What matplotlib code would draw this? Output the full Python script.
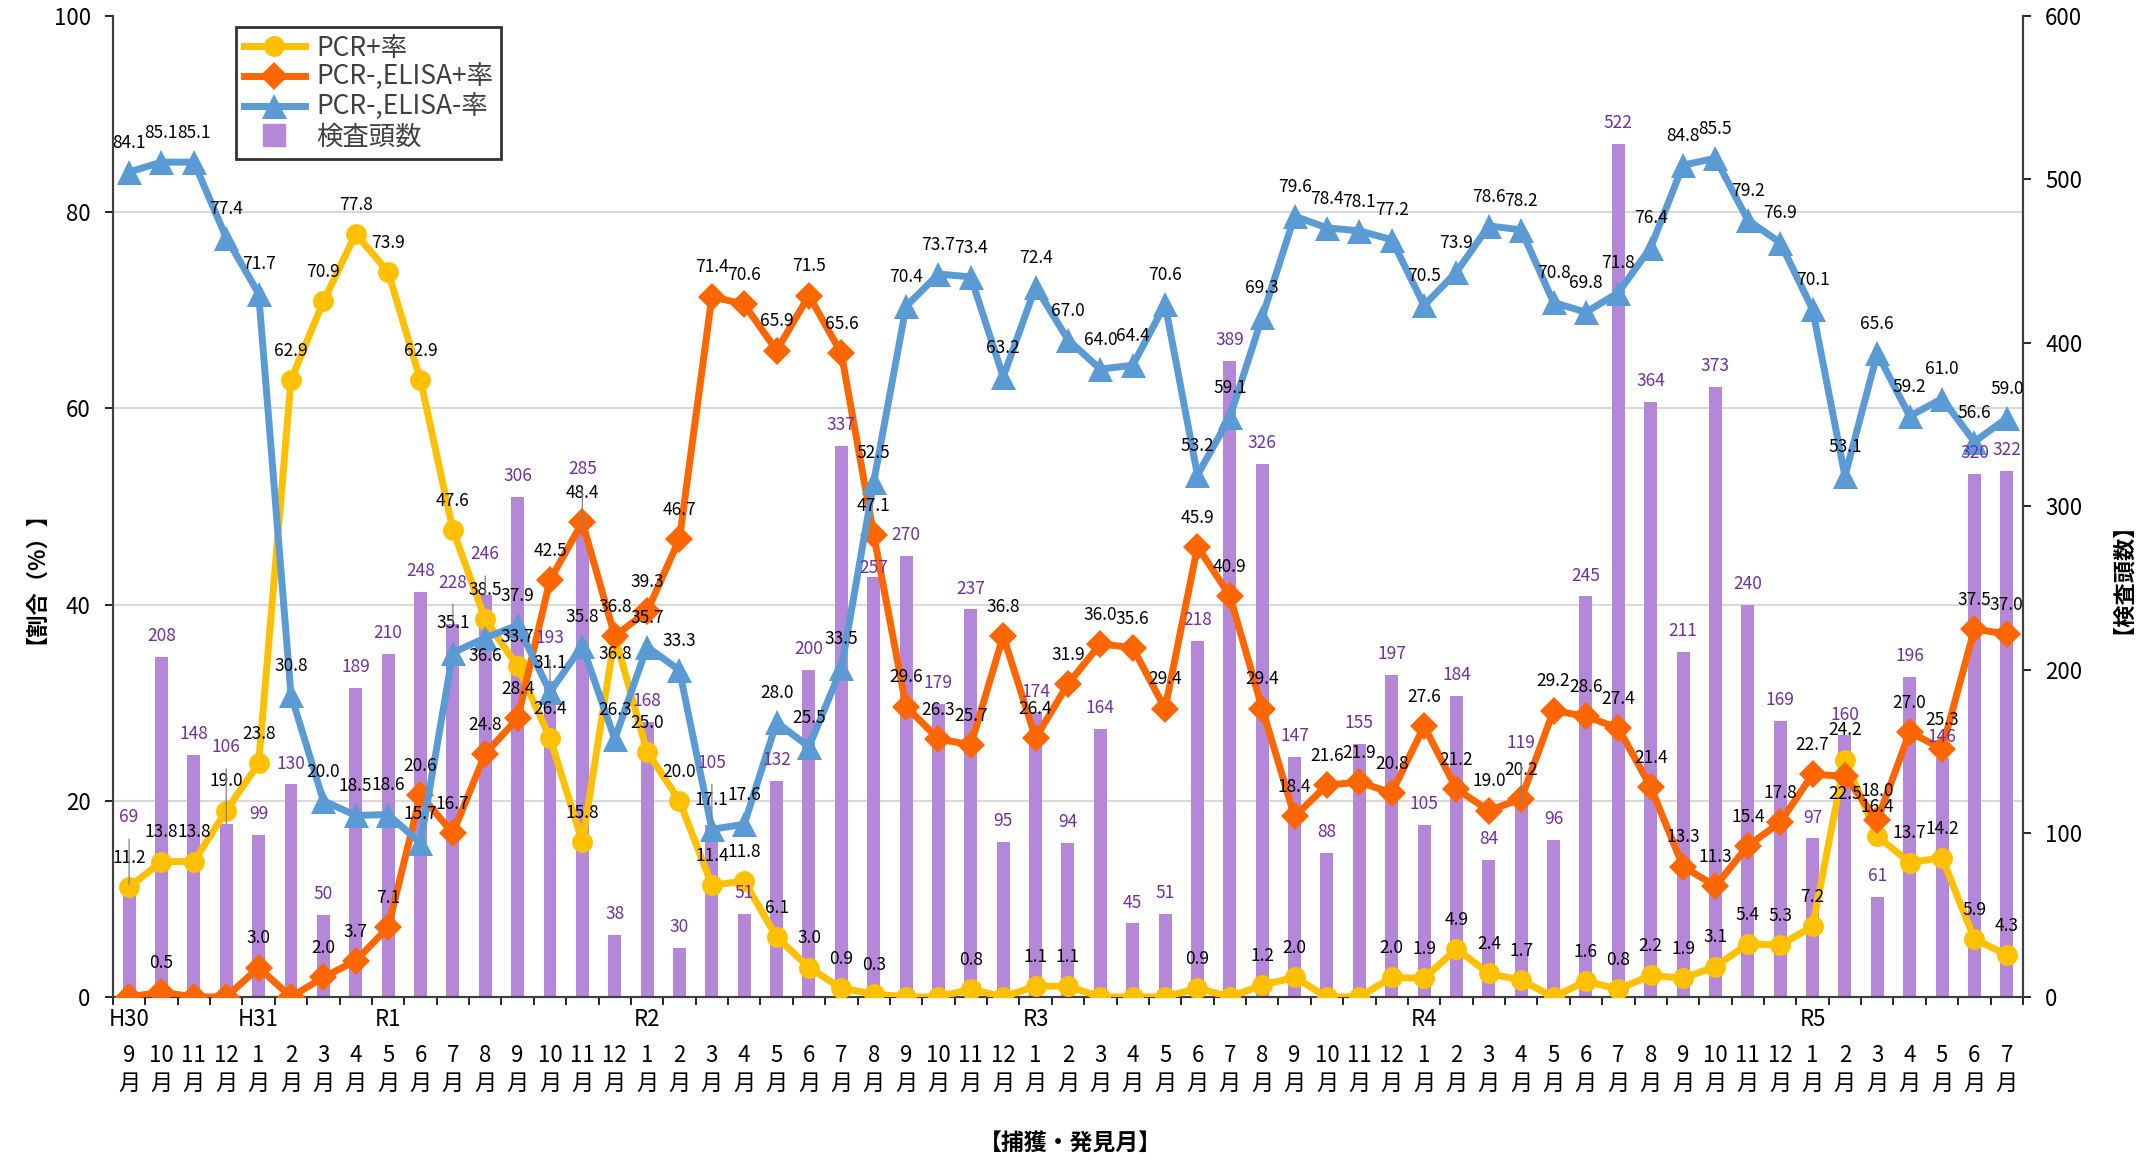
import numpy as np
import matplotlib
matplotlib.use("Agg")
import matplotlib.pyplot as plt
from matplotlib.lines import Line2D

plt.rcParams['font.family'] = ['Noto Sans CJK JP', 'DejaVu Sans']

# months from H30/9 to R5/7
months = [9, 10, 11, 12,
          1, 2, 3, 4, 5, 6, 7, 8, 9, 10, 11, 12,
          1, 2, 3, 4, 5, 6, 7, 8, 9, 10, 11, 12,
          1, 2, 3, 4, 5, 6, 7, 8, 9, 10, 11, 12,
          1, 2, 3, 4, 5, 6, 7, 8, 9, 10, 11, 12,
          1, 2, 3, 4, 5, 6, 7]
era_marks = {0: 'H30', 4: 'H31', 8: 'R1', 16: 'R2', 28: 'R3', 40: 'R4', 52: 'R5'}

pcr_pos = [11.2, 13.8, 13.8, 19.0, 23.8, 62.9, 70.9, 77.8, 73.9, 62.9, 47.6, 38.5,
           33.7, 26.4, 15.8, 36.8, 25.0, 20.0, 11.4, 11.8, 6.1, 3.0, 0.9, 0.3,
           0.0, 0.0, 0.8, 0.0, 1.1, 1.1, 0.0, 0.0, 0.0, 0.9, 0.0, 1.2,
           2.0, 0.0, 0.0, 2.0, 1.9, 4.9, 2.4, 1.7, 0.0, 1.6, 0.8, 2.2,
           1.9, 3.1, 5.4, 5.3, 7.2, 24.2, 16.4, 13.7, 14.2, 5.9, 4.3]
elisa_pos = [0.0, 0.5, 0.0, 0.0, 3.0, 0.0, 2.0, 3.7, 7.1, 20.6, 16.7, 24.8,
             28.4, 42.5, 48.4, 36.8, 39.3, 46.7, 71.4, 70.6, 65.9, 71.5, 65.6, 47.1,
             29.6, 26.3, 25.7, 36.8, 26.4, 31.9, 36.0, 35.6, 29.4, 45.9, 40.9, 29.4,
             18.4, 21.6, 21.9, 20.8, 27.6, 21.2, 19.0, 20.2, 29.2, 28.6, 27.4, 21.4,
             13.3, 11.3, 15.4, 17.8, 22.7, 22.5, 18.0, 27.0, 25.3, 37.5, 37.0]
elisa_neg = [84.1, 85.1, 85.1, 77.4, 71.7, 30.8, 20.0, 18.5, 18.6, 15.7, 35.1, 36.6,
             37.9, 31.1, 35.8, 26.3, 35.7, 33.3, 17.1, 17.6, 28.0, 25.5, 33.5, 52.5,
             70.4, 73.7, 73.4, 63.2, 72.4, 67.0, 64.0, 64.4, 70.6, 53.2, 59.1, 69.3,
             79.6, 78.4, 78.1, 77.2, 70.5, 73.9, 78.6, 78.2, 70.8, 69.8, 71.8, 76.4,
             84.8, 85.5, 79.2, 76.9, 70.1, 53.1, 65.6, 59.2, 61.0, 56.6, 59.0]
counts = [69, 208, 148, 106, 99, 130, 50, 189, 210, 248, 228, 246,
          306, 193, 285, 38, 168, 30, 105, 51, 132, 200, 337, 257,
          270, 179, 237, 95, 174, 94, 164, 45, 51, 218, 389, 326,
          147, 88, 155, 197, 105, 184, 84, 119, 96, 245, 522, 364,
          211, 373, 240, 169, 97, 160, 61, 196, 146, 320, 322]

bar_color = '#B487D8'
bar_text = '#7030A0'
c_yellow = '#FFC000'
c_orange = '#FF6600'
c_blue = '#5B9BD5'

# label placement tweaks (points) -- moved labels as in the original sheet
bar_raise = {0: 48, 3: 55, 10: 30, 11: 29, 13: 31, 14: 45, 18: 45, 23: 6, 43: 43}
line_shift = {(0, 15): -13, (2, 11): -13, (1, 53): -13}

x = np.arange(len(months))

fig = plt.figure(figsize=(21.43, 11.59), dpi=100)
ax1 = fig.add_axes([0.0527, 0.1398, 0.8913, 0.8464])
ax2 = ax1.twinx()
ax1.set_zorder(ax2.get_zorder() + 1)
ax1.patch.set_visible(False)

# bars on right axis
ax2.bar(x, counts, width=0.4, color=bar_color, zorder=2)
ax2.set_ylim(0, 600)
ax2.set_yticks(range(0, 601, 100))
ax2.set_yticks(np.arange(120, 601, 120), minor=True)
ax2.grid(which='minor', axis='y', color='#D9D9D9', linewidth=1.5)
ax2.set_axisbelow(True)
ax2.tick_params(axis='y', which='minor', length=0)
ax2.tick_params(axis='y', which='major', labelsize=16, length=6, width=1.2, pad=10)

# lines on left axis
series = [(pcr_pos, c_yellow, 'o', 15, 'PCR+率'),
          (elisa_pos, c_orange, 'D', 14, 'PCR-,ELISA+率'),
          (elisa_neg, c_blue, '^', 18, 'PCR-,ELISA-率')]
handles = []
for k, (vals, col, mk, ms, lab) in enumerate(series):
    ln, = ax1.plot(x, vals, color=col, marker=mk, markersize=ms, linewidth=5,
                   markeredgewidth=0, label=lab, zorder=3)
    handles.append(ln)
    for xi, v in zip(x, vals):
        if v == 0:
            continue
        dy = line_shift.get((k, xi), 21)
        ax1.annotate(f"{v:.1f}", (xi, v), xytext=(0, dy), textcoords='offset points',
                     ha='center', va='center', fontsize=12.5, color='black', zorder=5)

# bar value labels, placed with the bar axis scale but drawn over the lines
for i, (xi, c) in enumerate(zip(x, counts)):
    off = bar_raise.get(i, 15)
    kw = dict(xycoords=ax2.transData, xytext=(0, off), textcoords='offset points',
              ha='center', va='center', fontsize=12.5, color=bar_text, zorder=6)
    if off > 20:
        kw['arrowprops'] = dict(arrowstyle='-', color='#808080', lw=0.9,
                                shrinkA=7, shrinkB=0)
    ax1.annotate(str(c), (xi, c), **kw)

ax1.set_ylim(0, 100)
ax1.set_xlim(-0.5, len(months) - 0.5)
ax1.set_yticks(range(0, 101, 20))
ax1.tick_params(axis='y', labelsize=16, length=6, width=1.2, pad=10)

ax1.set_xticks(x)
ax1.set_xticklabels([f"{m}\n月" for m in months], fontsize=16, linespacing=1.26)
ax1.set_xticks(np.arange(-0.5, len(months), 1), minor=True)
ax1.tick_params(axis='x', which='major', length=0, pad=34)
ax1.tick_params(axis='x', which='minor', length=6, width=1.2)
for i, era in era_marks.items():
    ax1.text(i, -0.0234, era, transform=ax1.get_xaxis_transform(),
             ha='center', va='center', fontsize=16)

for a in (ax1, ax2):
    a.spines['top'].set_visible(False)
    for s in ('left', 'right', 'bottom'):
        a.spines[s].set_color('#404040')
        a.spines[s].set_linewidth(1.5)

bar_handle = Line2D([], [], marker='s', linestyle='none', markersize=16,
                    color=bar_color, label='検査頭数')
leg = ax1.legend(handles=handles + [bar_handle], loc='upper left',
                 bbox_to_anchor=(0.0644, 0.989), borderaxespad=0, fontsize=19,
                 frameon=True, fancybox=False, edgecolor='black', handlelength=2.3,
                 handletextpad=0.45, labelspacing=0.1, borderpad=0.3,
                 labelcolor='#404040')
leg.get_frame().set_linewidth(2)
leg.set_zorder(10)

fig.text(0.0117, 0.511, '【割合（%）】', rotation=90, ha='center', va='center',
         fontsize=16, fontweight='bold')
fig.text(0.9855, 0.511, '【検査頭数】', rotation=90, ha='center', va='center',
         fontsize=16, fontweight='bold')
fig.text(0.4993, 0.0138, '【捕獲・発見月】', ha='center', va='center',
         fontsize=16.5, fontweight='bold')

fig.savefig('out.png', dpi=100)
